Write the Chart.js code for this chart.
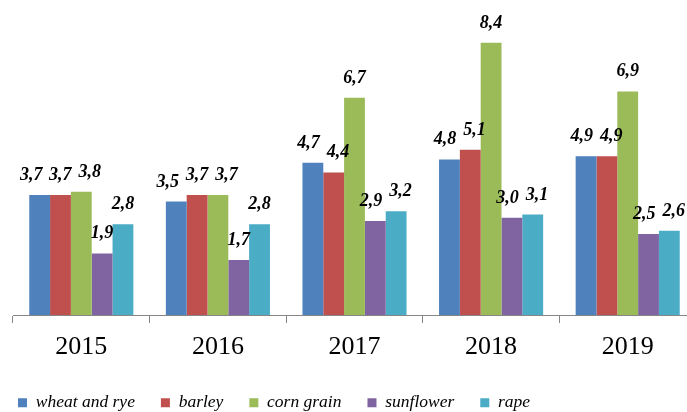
<!DOCTYPE html>
<html>
<head>
<meta charset="utf-8">
<script src="https://cdn.jsdelivr.net/npm/chart.js@4/dist/chart.umd.min.js"></script>
<style>
  html, body { margin: 0; padding: 0; background: #fff; overflow: hidden; }
  #wrap { width: 687px; height: 412px; overflow: hidden; }
</style>
</head>
<body>
<div id="wrap"><canvas id="cropChart" width="696" height="412"></canvas></div>
<script>
// categories and series values
const years = ['2015', '2016', '2017', '2018', '2019'];
const wheatRye = [3.7, 3.5, 4.7, 4.8, 4.9];
const barley = [3.7, 3.7, 4.4, 5.1, 4.9];
const cornGrain = [3.8, 3.7, 6.7, 8.4, 6.9];
const sunflower = [1.9, 1.7, 2.9, 3.0, 2.5];
const rape = [2.8, 2.8, 3.2, 3.1, 2.6];

const seriesNames = ['wheat and rye', 'barley', 'corn grain', 'sunflower', 'rape'];
const seriesColors = ['#4F81BD', '#C0504D', '#9BBB59', '#8064A2', '#4BACC6'];
const seriesData = [wheatRye, barley, cornGrain, sunflower, rape];

const serif = '"Liberation Serif", "Times New Roman", serif';

// value labels above every bar, comma as decimal separator,
// neighbours inside a group get pushed apart when they would overlap
const valueLabels = {
  id: 'valueLabels',
  afterDatasetsDraw(chart) {
    const ctx = chart.ctx;
    const lineH = 14;
    const gap = 7;
    ctx.save();
    ctx.font = 'italic bold 18px ' + serif;
    ctx.fillStyle = '#000';
    ctx.textAlign = 'center';
    ctx.textBaseline = 'alphabetic';
    const nSeries = chart.data.datasets.length;
    chart.data.labels.forEach((lab, j) => {
      const items = [];
      for (let i = 0; i < nSeries; i++) {
        const bar = chart.getDatasetMeta(i).data[j];
        const txt = chart.data.datasets[i].data[j].toFixed(1).replace('.', ',');
        items.push({ txt, x: bar.x, y: bar.y - 15, w: ctx.measureText(txt).width });
      }
      for (let pass = 0; pass < 3; pass++) {
        for (let k = 1; k < items.length; k++) {
          const a = items[k - 1], b = items[k];
          if (Math.abs(a.y - b.y) < lineH) {
            const over = (a.x + a.w / 2 + gap) - (b.x - b.w / 2);
            if (over > 0) {
              a.x -= over / 2;
              b.x += over / 2;
            }
          }
        }
      }
      items.forEach(it => ctx.fillText(it.txt, it.x, it.y));
    });
    ctx.restore();
  }
};

// move the legend row to where it sits in the picture
const legendPlace = {
  id: 'legendPlace',
  afterLayout(chart) {
    const lg = chart.legend;
    if (!lg) return;
    const pad = lg.options.labels.padding;
    const shift = lg.left + pad - 18;
    lg.left -= shift;
    lg.right -= shift;
    lg.top = 394 - pad;
    lg.bottom = 420;
  }
};

const ctx = document.getElementById('cropChart').getContext('2d');
new Chart(ctx, {
  type: 'bar',
  data: {
    labels: years,
    datasets: seriesData.map((d, i) => ({
      label: seriesNames[i],
      data: d,
      backgroundColor: seriesColors[i],
      borderWidth: 0,
      categoryPercentage: 0.762,
      barPercentage: 1
    }))
  },
  options: {
    responsive: false,
    animation: false,
    layout: { padding: { left: 13, right: 0, top: 0, bottom: 0 } },
    plugins: {
      tooltip: { enabled: false },
      legend: {
        position: 'bottom',
        align: 'start',
        maxHeight: 49,
        labels: {
          boxWidth: 9,
          boxHeight: 9,
          padding: 26,
          color: '#000',
          font: { family: serif, size: 17.5, style: 'italic' }
        }
      }
    },
    scales: {
      x: {
        offset: true,
        grid: {
          offset: true,
          drawOnChartArea: false,
          drawTicks: true,
          tickLength: 8,
          color: '#868686'
        },
        border: { display: true, color: '#868686', width: 1 },
        ticks: {
          color: '#000',
          padding: 9,
          font: { family: serif, size: 26 }
        },
        afterFit(scale) { scale.height = 48; }
      },
      y: {
        display: false,
        min: 0,
        max: 9.72
      }
    }
  },
  plugins: [valueLabels, legendPlace]
});
</script>
</body>
</html>
